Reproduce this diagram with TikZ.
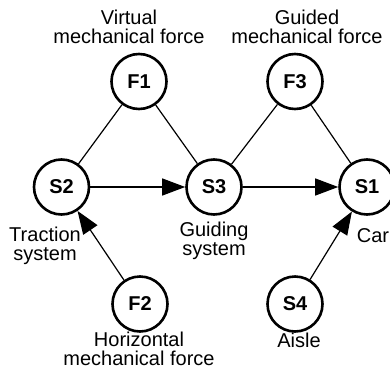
\documentclass[tikz,border=0pt]{standalone}
\usepackage{fontspec}
\setmainfont{Liberation Sans}
\usetikzlibrary{arrows.meta}
\begin{document}
\begin{tikzpicture}[x=1pt,y=-1pt,
  state/.style={circle,draw,line width=2.6pt,minimum size=55pt,inner sep=0pt,
    font=\fontsize{20}{22}\selectfont\bfseries},
  caption/.style={anchor=north,inner sep=0pt,align=center,
    font=\fontsize{20}{19}\selectfont},
  link/.style={line width=1.2pt},
  flow/.style={line width=1.2pt,-{Triangle[length=23pt,width=17pt]}}]
\useasboundingbox (0,0) rectangle (390,372);

% component and force nodes
\node[state] (F1) at (139,81.5) {F1};
\node[state] (F3) at (295,81.5) {F3};
\node[state] (S2) at (61.5,187) {S2};
\node[state] (S3) at (214,187) {S3};
\node[state] (S1) at (367,187) {S1};
\node[state] (F2) at (140,304) {F2};
\node[state] (S4) at (295,304) {S4};

% captions
\node[caption] (cF1) at (129,10) {Virtual\\mechanical force};
\node[caption] (cF3) at (307,10) {Guided\\mechanical force};
\node[caption] (cS2) at (45,227) {Traction\\system};
\node[caption] (cS3) at (214,222) {Guiding\\system};
\node[caption] (cS1) at (373,228) {Car};
\node[caption] (cF2) at (139,332) {Horizontal\\mechanical force};
\node[caption] (cS4) at (299,333) {Aisle};

% interactions
\draw[link] (F1) -- (S2);
\draw[link] (F1) -- (S3);
\draw[link] (F3) -- (S3);
\draw[link] (F3) -- (S1);
\draw[flow] (S2) -- (S3);
\draw[flow] (S3) -- (S1);
\draw[flow] (F2) -- (S2);
\draw[flow] (S4) -- (S1);
\end{tikzpicture}
\end{document}
